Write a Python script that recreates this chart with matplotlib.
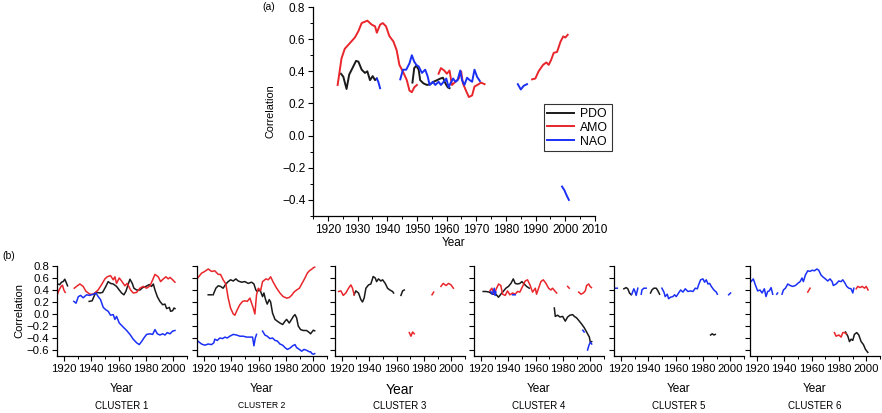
import numpy as np
import matplotlib
matplotlib.use("Agg")
import matplotlib.pyplot as plt
from matplotlib.ticker import MultipleLocator

plt.rcParams['font.family'] = ['Liberation Sans', 'DejaVu Sans']

BLACK = "#1a1a1a"
RED = "#e8262b"
BLUE = "#1b30f5"
N = None  # gap between segments

# ---- panel (a): whole region ----
A_PDO_YR = [1924.4, 1925.2, 1926.3, 1927.2, 1928.3, 1929.5, 1930.3, 1931.4, 1932.5, 1933.3, 1934.2,
            1935.1, 1935.9, 1936.5, N,
            1948.5, 1949.1, 1949.8, 1950.6, 1951.1, 1952.2, 1953.4, 1954.5, 1955.6, 1956.8, 1957.9,
            1958.8, 1959.6, 1960.4, 1961.0]
A_PDO = [0.385, 0.367, 0.29, 0.38, 0.42, 0.465, 0.46, 0.41, 0.39, 0.40, 0.345,
         0.37, 0.345, 0.355, N,
         0.33, 0.42, 0.435, 0.41, 0.345, 0.325, 0.315, 0.32, 0.335, 0.345, 0.355,
         0.36, 0.325, 0.30, 0.295]
A_AMO_YR = [1923.3, 1924.6, 1925.7, 1927.4, 1929.1, 1930.3, 1931.4, 1933.3, 1934.8, 1935.9, 1936.5,
            1937.6, 1938.5, 1939.6, 1940.7, 1942.1, 1943.2, 1944.1, 1945.5, 1946.6, 1947.5, 1948.3,
            1949.1, 1950.0, N,
            1957.3, 1958.1, 1959.2, 1960.1, 1961.0, 1961.8, 1963.0, 1964.1, 1964.9, 1965.5, 1966.3,
            1967.5, 1968.6, 1969.4, 1970.8, 1971.6, 1972.8, N,
            1988.8, 1989.9, 1991.0, 1992.5, 1993.6, 1994.4, 1995.2, 1996.1, 1997.2, 1998.4, 1999.3,
            2000.0, 2000.8]
A_AMO = [0.315, 0.48, 0.54, 0.575, 0.61, 0.65, 0.70, 0.715, 0.69, 0.68, 0.64,
         0.69, 0.70, 0.68, 0.62, 0.585, 0.53, 0.44, 0.39, 0.345, 0.28, 0.27,
         0.30, 0.315, N,
         0.385, 0.42, 0.405, 0.385, 0.405, 0.315, 0.335, 0.355, 0.40, 0.325, 0.29,
         0.24, 0.25, 0.305, 0.32, 0.33, 0.32, N,
         0.35, 0.355, 0.40, 0.44, 0.455, 0.44, 0.47, 0.515, 0.52, 0.585, 0.617,
         0.61, 0.627]
A_NAO_YR = [1936.5, 1937.0, 1937.6, N,
            1944.4, 1945.3, 1946.4, 1947.5, 1948.3, 1949.1, 1949.8, 1950.6, 1951.7, 1952.8, 1953.6,
            1954.3, 1955.4, 1956.2, 1957.3, 1958.1, 1959.0, 1959.9, 1960.7, 1961.3, 1962.2, 1963.0,
            1963.7, 1964.6, 1965.2, 1966.0, 1966.9, 1967.8, 1968.6, 1969.4, 1970.3, 1971.2, N,
            1984.0, 1985.0, 1986.0, 1987.1, N,
            1998.9, 1999.7, 2000.4, 2001.2]
A_NAO = [0.355, 0.335, 0.295, N,
         0.35, 0.41, 0.41, 0.45, 0.50, 0.46, 0.44, 0.43, 0.39, 0.41, 0.37,
         0.315, 0.335, 0.315, 0.335, 0.315, 0.335, 0.355, 0.30, 0.325, 0.355, 0.335,
         0.345, 0.405, 0.345, 0.315, 0.36, 0.345, 0.335, 0.41, 0.365, 0.34, N,
         0.32, 0.287, 0.31, 0.32, N,
         -0.317, -0.34, -0.37, -0.40]

# ---- panel (b): clusters ----
C1_PDO_YR = [1915.4, 1917.0, 1918.3, 1919.5, 1920.7, 1922.0, 1922.7, N,
             1938.5, 1940.7, 1942.7, 1944.4, 1946.3, 1948.3, 1950.7, 1952.4, 1954.1, 1956.1, 1958.5,
             1960.5, 1962.2, 1963.9, 1965.4, 1967.1, 1968.3, 1970.0, 1971.2, 1973.2, 1975.6, 1977.6,
             1980.0, 1982.4, 1984.1, 1985.4, 1986.6, 1988.3, 1990.2, 1992.2, 1993.9, 1995.1, 1997.1,
             1998.0, 1999.5, 2000.5, 2001.2]
C1_PDO = [0.50, 0.49, 0.53, 0.54, 0.58, 0.51, 0.47, N,
          0.21, 0.22, 0.33, 0.36, 0.35, 0.36, 0.46, 0.54, 0.51, 0.50, 0.46,
          0.40, 0.35, 0.32, 0.38, 0.50, 0.58, 0.51, 0.43, 0.40, 0.40, 0.44,
          0.46, 0.49, 0.46, 0.50, 0.40, 0.29, 0.21, 0.155, 0.165, 0.09, 0.11,
          0.045, 0.055, 0.10, 0.09]
C1_AMO_YR = [1915.2, 1916.5, 1918.0, 1919.0, 1920.0, 1921.0, N,
             1927.6, 1929.3, 1931.7, 1934.1, 1936.1, 1939.0, 1941.5, 1945.0, 1947.6, 1950.0, 1951.7,
             1954.1, 1956.1, 1957.3, 1958.5, 1960.5, 1962.2, 1964.6, 1966.3, 1968.8, 1970.7, 1973.2,
             1975.6, 1978.0, 1980.5, 1983.0, 1984.9, 1986.6, 1989.0, 1990.7, 1992.7, 1994.6, 1996.3,
             1997.6, 1999.5, 2001.2]
C1_AMO = [0.32, 0.40, 0.46, 0.48, 0.40, 0.36, N,
          0.43, 0.46, 0.50, 0.46, 0.38, 0.33, 0.33, 0.40, 0.49, 0.585, 0.62,
          0.64, 0.57, 0.62, 0.51, 0.60, 0.55, 0.47, 0.51, 0.40, 0.35, 0.36,
          0.43, 0.46, 0.43, 0.47, 0.57, 0.66, 0.62, 0.54, 0.585, 0.62, 0.585,
          0.61, 0.57, 0.53]
C1_NAO_YR = [1927.3, 1928.9, 1930.6, 1932.3, 1934.1, 1936.6, 1939.0, 1941.5, 1943.4, 1945.1, 1946.8,
             1948.8, 1950.7, 1952.4, 1954.1, 1956.1, 1957.3, 1958.5, 1960.5, 1962.2, 1963.9, 1965.9,
             1968.3, 1970.7, 1973.2, 1975.1, 1976.8, 1978.5, 1980.5, 1982.9, 1984.9, 1986.6, 1988.3,
             1990.2, 1992.2, 1993.9, 1995.6, 1997.6, 1999.5, 2001.2]
C1_NAO = [0.21, 0.18, 0.29, 0.31, 0.27, 0.32, 0.31, 0.33, 0.35, 0.29, 0.24,
          0.11, 0.07, 0.045, -0.02, -0.01, -0.09, -0.04, -0.15, -0.19, -0.23, -0.275,
          -0.34, -0.42, -0.48, -0.51, -0.46, -0.40, -0.34, -0.33, -0.34, -0.26, -0.33,
          -0.35, -0.33, -0.35, -0.31, -0.33, -0.285, -0.275]

C2_PDO_YR = [1923.2, 1925.6, N,
             1926.8, 1928.8, 1930.5, 1932.2, 1934.1, 1936.1, 1937.8, 1939.5, 1941.5, 1943.4, 1945.1,
             1947.6, 1950.0, 1952.4, 1954.9, 1956.6, 1958.0, 1959.0, 1960.5, 1961.5, 1962.9, 1963.9,
             1965.1, 1966.3, 1967.8, 1968.8, 1970.2, 1972.0, 1973.7, 1975.6, 1977.6, 1979.3, 1980.5,
             1982.4, 1984.1, 1985.4, 1986.6, 1987.8, 1989.0, 1990.7, 1992.7, 1995.1, 1997.1, 1998.0,
             1999.0, 2000.0, 2001.0]
C2_PDO = [0.32, 0.32, N,
          0.32, 0.43, 0.47, 0.46, 0.43, 0.50, 0.54, 0.57, 0.55, 0.585, 0.55,
          0.53, 0.54, 0.51, 0.53, 0.50, 0.40, 0.375, 0.40, 0.375, 0.29, 0.35,
          0.24, 0.165, 0.24, 0.20, 0.015, -0.09, -0.12, -0.15, -0.175, -0.12, -0.09,
          -0.15, -0.09, -0.04, -0.01, -0.065, -0.20, -0.26, -0.275, -0.275, -0.31, -0.33,
          -0.30, -0.27, -0.28]
C2_AMO_YR = [1915.5, 1918.3, 1920.7, 1923.2, 1925.6, 1928.0, 1930.5, 1932.2, 1934.1, 1936.1, 1937.8,
             1939.5, 1941.5, 1942.7, 1944.4, 1946.3, 1948.3, 1950.0, 1951.7, 1953.7, 1954.9, 1956.1,
             1957.3, 1958.5, 1959.8, 1961.5, 1962.9, 1965.4, 1967.1, 1968.8, 1970.7, 1973.2, 1975.6,
             1978.0, 1980.5, 1982.4, 1984.1, 1985.9, 1987.8, 1989.8, 1991.5, 1993.9, 1995.6, 1997.1,
             1999.0, 2000.0, 2001.0]
C2_AMO = [0.60, 0.68, 0.71, 0.75, 0.71, 0.72, 0.66, 0.66, 0.57, 0.50, 0.265,
          0.10, 0.0, -0.02, 0.07, 0.155, 0.21, 0.22, 0.21, 0.265, 0.18, 0.10,
          0.0, 0.32, 0.43, 0.39, 0.54, 0.585, 0.57, 0.62, 0.53, 0.43, 0.35,
          0.29, 0.265, 0.275, 0.31, 0.365, 0.40, 0.43, 0.50, 0.60, 0.68, 0.72,
          0.75, 0.77, 0.78]
C2_NAO_YR = [1915.5, 1918.3, 1920.7, 1923.2, 1925.6, 1927.3, 1928.0, 1929.8, 1931.7, 1933.7, 1935.4,
             1937.1, 1939.0, 1941.5, 1943.9, 1946.3, 1948.8, 1951.2, 1953.7, 1955.6, 1956.6, 1957.6,
             1958.5, N,
             1962.9, 1964.6, 1966.3, 1968.3, 1970.2, 1972.0, 1973.7, 1975.6, 1977.6, 1979.3, 1981.0,
             1982.9, 1984.9, 1986.6, 1987.8, 1989.8, 1991.5, 1993.2, 1995.1, 1997.1, 1998.0, 1999.0,
             2000.0, 2001.0]
C2_NAO = [-0.45, -0.50, -0.52, -0.50, -0.51, -0.48, -0.42, -0.44, -0.40, -0.41, -0.385,
          -0.40, -0.37, -0.34, -0.35, -0.37, -0.37, -0.385, -0.385, -0.385, -0.53, -0.40,
          -0.34, N,
          -0.285, -0.35, -0.37, -0.41, -0.40, -0.44, -0.45, -0.50, -0.52, -0.56, -0.59,
          -0.57, -0.53, -0.51, -0.56, -0.59, -0.62, -0.59, -0.605, -0.63, -0.63, -0.66,
          -0.67, -0.66]

C3_PDO_YR = [1929.0, 1930.2, 1932.2, 1933.9, 1935.1, 1936.3, 1937.6, 1939.5, 1941.2, 1942.9, 1944.4,
             1945.4, 1946.8, 1948.5, 1949.8, 1951.7, 1953.4, 1955.1, 1957.1, 1957.8, N,
             1963.2, 1964.4, 1965.6]
C3_PDO = [0.32, 0.385, 0.35, 0.24, 0.20, 0.265, 0.43, 0.485, 0.50, 0.625, 0.60,
          0.54, 0.585, 0.55, 0.57, 0.51, 0.43, 0.40, 0.375, 0.35, N,
          0.31, 0.385, 0.40]
C3_AMO_YR = [1917.6, 1919.3, 1921.0, 1922.9, 1924.9, 1926.6, 1927.8, 1929.0, N,
             1969.3, 1970.5, 1971.7, 1972.9, N,
             1985.9, 1987.1, N,
             1992.4, 1994.1, 1996.1, 1998.0, 1999.8, 2001.5]
C3_AMO = [0.375, 0.385, 0.31, 0.35, 0.43, 0.485, 0.43, 0.32, N,
          -0.31, -0.37, -0.30, -0.33, N,
          0.32, 0.365, N,
          0.46, 0.51, 0.475, 0.51, 0.485, 0.43]

C4_PDO_YR = [1921.7, 1923.7, 1926.1, 1928.5, 1931.0, 1932.9, 1934.6, 1936.3, 1938.3, 1940.2, 1942.0,
             1943.7, 1945.1, 1946.8, 1948.5, 1950.0, 1951.7, 1953.4, 1955.4, N,
             1973.7, 1974.4, 1976.1, 1977.8, 1979.8, 1981.7, 1983.4, 1985.1, 1987.1, 1988.3, 1990.0,
             1992.0, 1993.9, 1995.6, 1997.3, 1999.3, 2000.0, 2001.0]
C4_PDO = [0.375, 0.375, 0.365, 0.33, 0.33, 0.28, 0.33, 0.375, 0.43, 0.46, 0.51,
          0.585, 0.51, 0.50, 0.51, 0.54, 0.50, 0.46, 0.43, N,
          0.10, -0.04, -0.02, -0.05, -0.04, -0.12, -0.05, -0.02, -0.01, -0.04, -0.065,
          -0.12, -0.175, -0.23, -0.30, -0.385, -0.47, -0.46]
C4_AMO_YR = [1926.6, 1928.0, 1929.8, 1931.5, 1933.0, 1934.6, 1935.9, 1937.8, 1939.5, 1941.2, 1943.2,
             1945.1, 1946.8, 1948.5, 1950.5, 1952.4, 1954.1, 1955.9, 1957.8, 1959.8, 1960.7, 1962.2,
             1963.9, 1965.6, 1967.6, 1969.5, 1971.2, 1972.4, 1974.4, 1975.4, N,
             1983.4, 1984.6, N,
             1991.5, 1993.2, 1994.9, 1996.3, 1997.3, 1998.8, 1999.8, 2000.8]
C4_AMO = [0.385, 0.43, 0.33, 0.43, 0.50, 0.475, 0.33, 0.31, 0.385, 0.32, 0.35,
          0.33, 0.375, 0.365, 0.46, 0.55, 0.57, 0.485, 0.365, 0.43, 0.33, 0.43,
          0.54, 0.57, 0.51, 0.43, 0.40, 0.43, 0.375, 0.35, N,
          0.46, 0.43, N,
          0.365, 0.33, 0.35, 0.385, 0.475, 0.50, 0.46, 0.44]
C4_NAO_YR = [1927.3, 1928.5, 1929.8, 1930.5, 1931.0, N,
             1943.2, 1945.1, N,
             1994.5, 1995.5, N,
             1998.0, 1999.0, 2000.0, 2001.0]
C4_NAO = [0.375, 0.33, 0.43, 0.31, 0.365, N,
          0.32, 0.32, N,
          -0.27, -0.30, N,
          -0.60, -0.52, -0.47, -0.50]

C5_PDO_YR = [1922.2, 1923.9, 1925.1, 1926.3, 1927.6, N,
             1941.7, 1942.7, 1944.1, 1945.9, 1947.1, 1948.3, N,
             1985.6, 1986.8, 1988.0, 1989.0]
C5_PDO = [0.42, 0.44, 0.42, 0.35, 0.32, N,
          0.35, 0.40, 0.43, 0.43, 0.385, 0.33, N,
          -0.35, -0.33, -0.35, -0.34]
C5_NAO_YR = [1915.0, 1917.4, N,
             1928.0, 1929.5, 1930.5, 1931.2, 1932.4, N,
             1934.9, 1935.4, 1936.8, 1938.5, N,
             1950.0, 1951.5, 1952.4, 1953.9, 1954.9, 1956.3, 1958.0, 1959.3, 1960.5, 1962.2, 1963.7,
             1965.4, 1967.1, 1969.0, 1971.0, 1972.7, 1974.4, 1975.9, 1976.8, 1978.3, 1980.0, 1981.2,
             1982.4, 1983.7, 1984.9, 1986.1, 1988.0, 1989.8, 1990.5, N,
             1998.8, 2000.2]
C5_NAO = [0.43, 0.43, N,
          0.33, 0.42, 0.365, 0.31, 0.43, N,
          0.33, 0.40, 0.43, 0.43, N,
          0.43, 0.365, 0.29, 0.33, 0.255, 0.28, 0.29, 0.32, 0.29, 0.35, 0.40,
          0.365, 0.42, 0.375, 0.385, 0.375, 0.43, 0.42, 0.485, 0.57, 0.585, 0.53,
          0.57, 0.50, 0.51, 0.46, 0.40, 0.365, 0.33, N,
          0.32, 0.35]

C6_PDO_YR = [1984.8, 1986.5, 1987.7, 1988.9, 1990.1, 1991.3, 1993.0, 1994.5, 1996.2, 1997.9, 1999.4,
             2001.1]
C6_PDO = [-0.30, -0.37, -0.46, -0.42, -0.44, -0.34, -0.31, -0.35, -0.46, -0.51, -0.59,
          -0.64]
C6_AMO_YR = [1957.2, 1958.9, N,
             1976.7, 1977.9, 1979.9, 1981.6, 1982.8, 1984.0, 1985.2, N,
             1992.6, 1993.8, 1995.5, 1997.0, 1998.7, 1999.9, 2001.3]
C6_AMO = [0.365, 0.43, N,
          -0.31, -0.37, -0.35, -0.385, -0.31, -0.31, -0.33, N,
          0.42, 0.46, 0.44, 0.46, 0.43, 0.46, 0.40]
C6_NAO_YR = [1915.7, 1917.4, 1918.9, 1920.6, 1922.3, 1923.8, 1925.5, 1926.7, 1927.9, 1929.1, 1930.4,
             1931.6, N,
             1934.5, 1935.2, N,
             1938.4, 1939.4, 1940.9, 1942.6, 1944.3, 1946.2, 1948.2, 1949.9, 1951.6, 1953.0, 1954.0,
             1955.5, 1957.2, 1958.9, 1960.4, 1962.1, 1963.8, 1965.2, 1966.9, 1968.2, 1970.1, 1971.8,
             1973.5, 1975.0, 1975.9, 1977.9, 1979.9, 1981.6, 1982.8, 1984.0, 1985.7, 1987.2, 1988.9,
             1990.1, 1990.9]
C6_NAO = [0.54, 0.585, 0.485, 0.385, 0.40, 0.35, 0.42, 0.29, 0.375, 0.385, 0.44,
          0.33, N,
          0.33, 0.35, N,
          0.33, 0.40, 0.43, 0.50, 0.475, 0.46, 0.475, 0.51, 0.54, 0.60, 0.54,
          0.65, 0.72, 0.71, 0.73, 0.72, 0.75, 0.73, 0.65, 0.62, 0.585, 0.55,
          0.585, 0.54, 0.475, 0.50, 0.55, 0.54, 0.57, 0.53, 0.46, 0.43, 0.42,
          0.35, 0.43]

CLUSTERS = [
    ("CLUSTER 1", C1_PDO_YR, C1_PDO, C1_AMO_YR, C1_AMO, C1_NAO_YR, C1_NAO),
    ("CLUSTER 2", C2_PDO_YR, C2_PDO, C2_AMO_YR, C2_AMO, C2_NAO_YR, C2_NAO),
    ("CLUSTER 3", C3_PDO_YR, C3_PDO, C3_AMO_YR, C3_AMO, [], []),
    ("CLUSTER 4", C4_PDO_YR, C4_PDO, C4_AMO_YR, C4_AMO, C4_NAO_YR, C4_NAO),
    ("CLUSTER 5", C5_PDO_YR, C5_PDO, [], [], C5_NAO_YR, C5_NAO),
    ("CLUSTER 6", C6_PDO_YR, C6_PDO, C6_AMO_YR, C6_AMO, C6_NAO_YR, C6_NAO),
]


def arr(v):
    return np.array([np.nan if x is None else x for x in v], dtype=float)


def fmt(vals):
    return [f"{v:.1f}".replace("-", "\u2212") for v in vals]


def style_axis(ax, fs):
    for s in ("top", "right"):
        ax.spines[s].set_visible(False)
    for s in ("left", "bottom"):
        ax.spines[s].set_linewidth(0.9)
    ax.tick_params(which="major", direction="out", length=3.5, width=0.8, labelsize=fs, pad=2)
    ax.tick_params(which="minor", direction="out", length=2, width=0.7)


W, H = 882, 413
fig = plt.figure(figsize=(W / 100, H / 100), dpi=100)

# panel (a)
ax = fig.add_axes([313 / W, 1 - 216 / H, 282 / W, 209 / H])
ax.plot(arr(A_PDO_YR), arr(A_PDO), color=BLACK, lw=1.4, label="PDO")
ax.plot(arr(A_AMO_YR), arr(A_AMO), color=RED, lw=1.4, label="AMO")
ax.plot(arr(A_NAO_YR), arr(A_NAO), color=BLUE, lw=1.4, label="NAO")
ax.set_xlim(1915, 2010)
ax.set_ylim(-0.5, 0.8)
ax.xaxis.set_minor_locator(MultipleLocator(5))
ax.yaxis.set_minor_locator(MultipleLocator(0.1))
yt = np.arange(-0.4, 0.81, 0.2)
ax.set_yticks(yt)
ax.set_yticklabels(fmt(yt))
ax.set_xticks(np.arange(1920, 2011, 10))
style_axis(ax, 8.5)
ax.set_xlabel("Year", fontsize=8.5, labelpad=1)
ax.set_ylabel("Correlation", fontsize=7.8, labelpad=5)
leg = ax.legend(loc="upper left", bbox_to_anchor=(0.818, 0.535), fontsize=8.8, frameon=True,
                fancybox=False, edgecolor="black", handlelength=2.2, handletextpad=0.5,
                borderpad=0.3, labelspacing=0.15, borderaxespad=0)
leg.get_frame().set_linewidth(0.8)
fig.text(262 / W, 1 - 7 / H, "(a)", fontsize=7.5, va="center", ha="left")

# panel (b)
LEFTS = [57, 197, 335, 474, 614, 750]
fig.text(2 / W, 1 - 256 / H, "(b)", fontsize=7.5, va="center", ha="left")
for i, (name, pyr, pv, ayr, av, nyr, nv) in enumerate(CLUSTERS):
    bx = fig.add_axes([LEFTS[i] / W, 1 - 356 / H, 130 / W, 90 / H])
    if len(pyr):
        bx.plot(arr(pyr), arr(pv), color=BLACK, lw=1.1)
    if len(ayr):
        bx.plot(arr(ayr), arr(av), color=RED, lw=1.1)
    if len(nyr):
        bx.plot(arr(nyr), arr(nv), color=BLUE, lw=1.1)
    bx.set_xlim(1915, 2010)
    bx.set_ylim(-0.7, 0.8)
    bx.set_xticks(np.arange(1920, 2001, 20))
    bx.xaxis.set_minor_locator(MultipleLocator(10))
    yt = np.arange(-0.6, 0.81, 0.2)
    bx.set_yticks(yt)
    style_axis(bx, 8.2)
    if i == 0:
        bx.set_yticklabels(fmt(yt))
        bx.set_ylabel("Correlation", fontsize=8, labelpad=2)
    else:
        bx.set_yticklabels([])
    bx.set_xlabel("Year", fontsize=10 if i == 2 else 8.5, labelpad=7)
    cx = (LEFTS[i] + 65) / W
    fig.text(cx, 1 - 406 / H, name, fontsize=6.2 if i == 1 else 7, ha="center", va="center")

fig.savefig("out.png", dpi=100)
